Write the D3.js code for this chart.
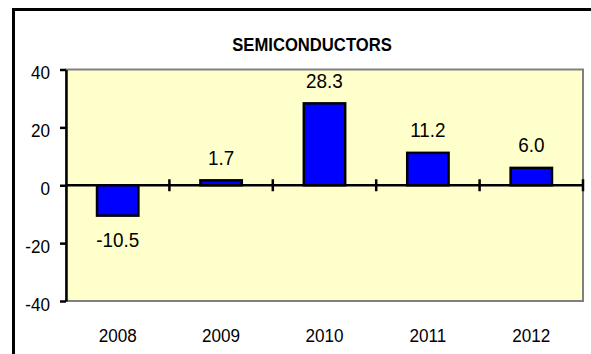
<!DOCTYPE html>
<html>
<head>
<meta charset="utf-8">
<script src="https://cdn.jsdelivr.net/npm/d3@7/dist/d3.min.js"></script>
<style>
  html, body { margin: 0; padding: 0; background: #ffffff; }
  svg { display: block; }
  text { font-family: Arial, "Liberation Sans", sans-serif; fill: #000; }
</style>
</head>
<body>
<svg id="chart" width="591" height="354"></svg>
<script>
// Annual growth, semiconductors (%)
const years = ["2008", "2009", "2010", "2011", "2012"];
const growth = [-10.5, 1.7, 28.3, 11.2, 6.0];
const yTicks = [-40, -20, 0, 20, 40];
const chartTitle = "SEMICONDUCTORS";

const svg = d3.select("#chart");
const W = 591, H = 354;
const plot = { left: 66, right: 583, top: 69.5, bottom: 301 };

// Outer frame (runs off the right and bottom edges)
svg.append("rect")
  .attr("x", 13.5).attr("y", 9.5)
  .attr("width", W + 20).attr("height", H + 20)
  .attr("fill", "#ffffff")
  .attr("stroke", "#000").attr("stroke-width", 3);

const x = d3.scaleBand()
  .domain(years)
  .range([plot.left, plot.right])
  .paddingInner(0.6)
  .paddingOuter(0.3);

const y = d3.scaleLinear()
  .domain([d3.min(yTicks), d3.max(yTicks)])
  .range([plot.bottom, plot.top]);

// Plot area
svg.append("rect")
  .attr("x", plot.left).attr("y", plot.top)
  .attr("width", plot.right - plot.left)
  .attr("height", plot.bottom - plot.top)
  .attr("fill", "#FFFFCC")
  .attr("stroke", "#808080").attr("stroke-width", 2);

// Helper for slightly narrow text
function label(g, txt, tx, ty, size, anchor, weight) {
  g.append("text")
    .attr("transform", `translate(${tx},${ty}) scale(0.9,1)`)
    .attr("text-anchor", anchor)
    .attr("font-size", size)
    .attr("font-weight", weight || "normal")
    .text(txt);
}

// Y axis
const yAxis = svg.append("g")
  .attr("transform", `translate(${plot.left},0)`)
  .call(d3.axisLeft(y).tickValues(yTicks).tickSize(6).tickSizeOuter(0).tickFormat(""));
yAxis.select(".domain").attr("stroke", "#000").attr("stroke-width", 2.5);
yAxis.selectAll(".tick line").attr("stroke", "#000").attr("stroke-width", 2.5);

const yLab = svg.append("g");
yTicks.forEach(v => label(yLab, String(v), 50, y(v) + 9.5, 19, "end"));

// X axis at zero, with ticks between categories
const step = x.step();
const boundaries = years.map((d, i) => plot.left + step * (i + 1));
const xAxis = svg.append("g");
xAxis.append("line")
  .attr("x1", plot.left).attr("x2", plot.right)
  .attr("y1", y(0)).attr("y2", y(0))
  .attr("stroke", "#000").attr("stroke-width", 2.5);
xAxis.selectAll("line.tk")
  .data(boundaries)
  .join("line")
  .attr("class", "tk")
  .attr("x1", d => d).attr("x2", d => d)
  .attr("y1", y(0) - 6).attr("y2", y(0) + 6)
  .attr("stroke", "#000").attr("stroke-width", 2.5);

// Category labels along the bottom
const xLab = svg.append("g");
years.forEach(d => label(xLab, d, x(d) + x.bandwidth() / 2, 342, 19, "middle"));

// Bars
svg.append("g").selectAll("rect")
  .data(years.map((d, i) => ({ year: d, value: growth[i] })))
  .join("rect")
  .attr("x", d => x(d.year))
  .attr("width", x.bandwidth())
  .attr("y", d => y(Math.max(0, d.value)))
  .attr("height", d => Math.abs(y(d.value) - y(0)))
  .attr("fill", "#0000FF")
  .attr("stroke", "#000").attr("stroke-width", 2.5);

// Value labels
const vLab = svg.append("g");
years.forEach((d, i) => {
  const v = growth[i];
  const cx = x(d) + x.bandwidth() / 2;
  const ty = v >= 0 ? y(v) - 15.5 : y(v) + 31.5;
  label(vLab, v.toFixed(1), cx, ty, 21, "middle");
});

// Title
label(svg, chartTitle, 312, 50.5, 18.5, "middle", "bold");
</script>
</body>
</html>
